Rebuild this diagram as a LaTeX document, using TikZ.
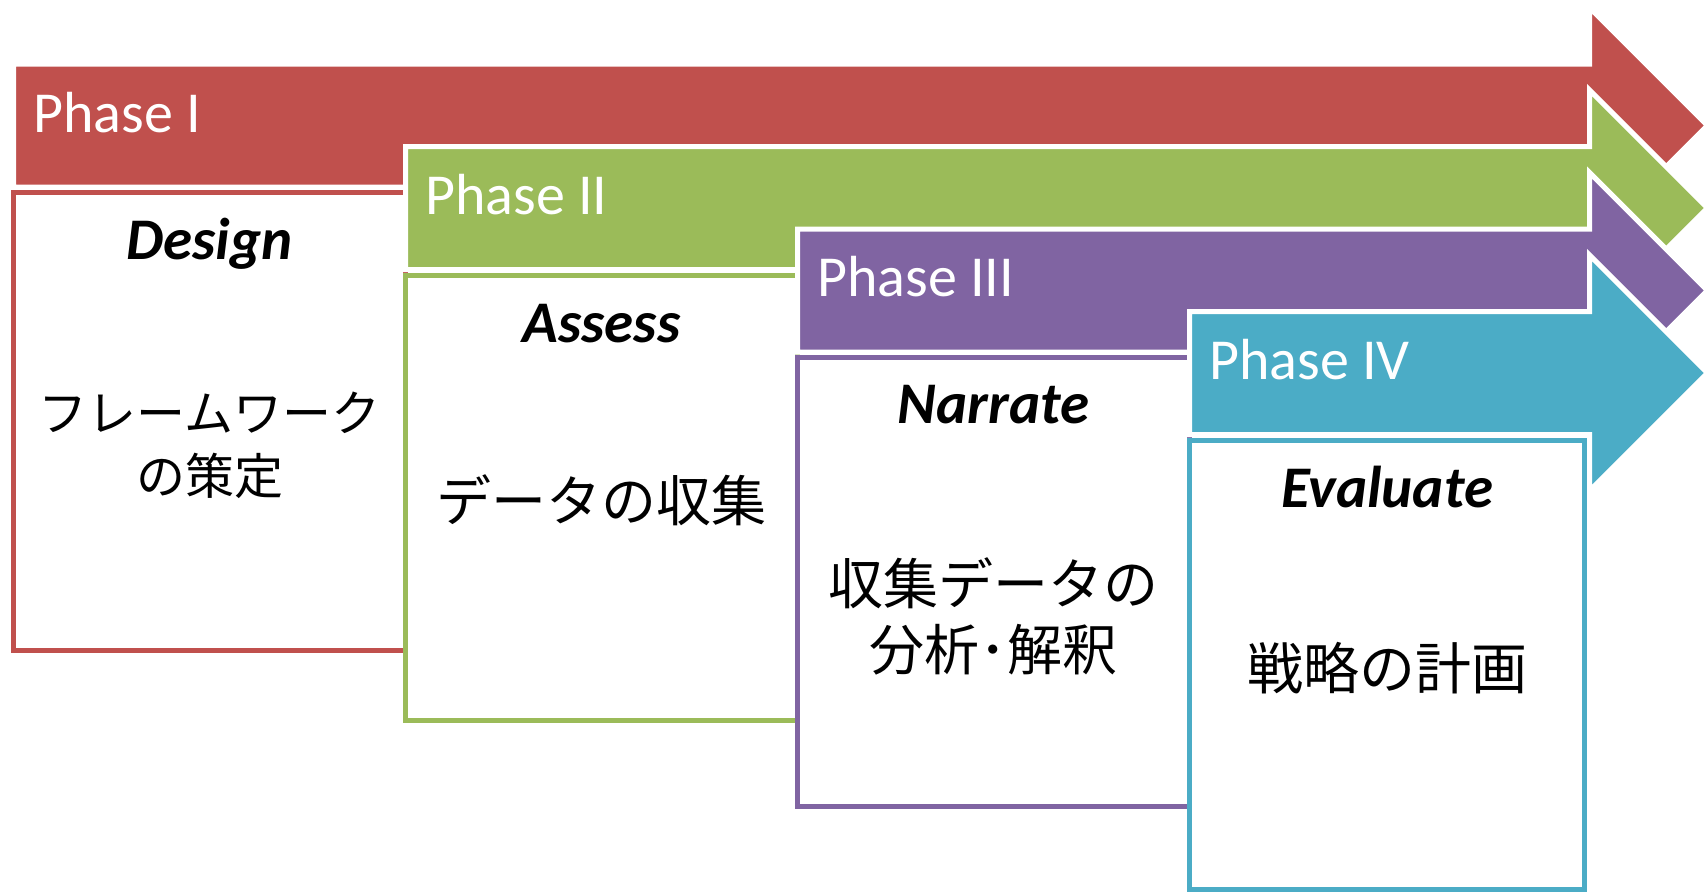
\documentclass[tikz,border=0pt]{standalone}
\usepackage{fontspec}
\setmainfont{Carlito}
\newfontfamily\jpfont{Noto Sans CJK JP}
\definecolor{pred}{HTML}{C0504D}
\definecolor{pgreen}{HTML}{9BBB59}
\definecolor{ppurple}{HTML}{8064A2}
\definecolor{pblue}{HTML}{4BACC6}
\begin{document}
\begin{tikzpicture}[x=1pt,y=-1pt,
  arrowshape/.style={draw=white, line width=5pt, line join=miter},
  phasebox/.style={fill=white, line width=5pt},
  phaselabel/.style={anchor=base west, inner sep=0pt, text=white, font=\fontsize{58}{68}\selectfont},
  heading/.style={anchor=base, inner sep=0pt, font=\fontsize{59}{68}\selectfont\bfseries\itshape},
  jptext/.style={anchor=center, inner sep=0pt, align=center}
]
\useasboundingbox (0,0) rectangle (1704,892);

% Phase I
\path[arrowshape, fill=pred] (13.5,64) -- (1589.5,64) -- (1589.5,7.5) -- (1707.5,125.5) -- (1589.5,243.5) -- (1589.5,187) -- (13.5,187) -- cycle;
\node[phaselabel] (p1) at (33,132.5) {Phase I};
\draw[phasebox, draw=pred] (13.5,192.5) rectangle (405.5,650);
\node[heading] (h1) at (209.5,259.5) {Design};
\node[jptext, font=\jpfont\fontsize{49}{63}\selectfont] (t1) at (209.5,445.5) {フレームワーク\\の策定};

% Phase II
\path[arrowshape, fill=pgreen] (405.5,146.5) -- (1589.5,146.5) -- (1589.5,90) -- (1707.5,208) -- (1589.5,326) -- (1589.5,269.5) -- (405.5,269.5) -- cycle;
\node[phaselabel] (p2) at (425,214) {Phase II};
\draw[phasebox, draw=pgreen] (405.5,275) rectangle (797.5,720.5);
\node[heading] (h2) at (601.5,342) {Assess};
\node[jptext, font=\jpfont\fontsize{55}{66}\selectfont] (t2) at (601.5,500) {データの収集};

% Phase III
\path[arrowshape, fill=ppurple] (797.5,229) -- (1589.5,229) -- (1589.5,172.5) -- (1707.5,290.5) -- (1589.5,408.5) -- (1589.5,352) -- (797.5,352) -- cycle;
\node[phaselabel] (p3) at (817,296.5) {Phase III};
\draw[phasebox, draw=ppurple] (797.5,357.5) rectangle (1189.5,806);
\node[heading] (h3) at (993.5,423) {Narrate};
\node[jptext, font=\jpfont\fontsize{55}{66}\selectfont] (t3) at (993.5,616) {収集データの\\分析･解釈};

% Phase IV
\path[arrowshape, fill=pblue] (1189.5,311.5) -- (1589.5,311.5) -- (1589.5,255) -- (1707.5,373) -- (1589.5,491) -- (1589.5,434.5) -- (1189.5,434.5) -- cycle;
\node[phaselabel] (p4) at (1209,379) {Phase IV};
\draw[phasebox, draw=pblue] (1189.5,440) rectangle (1584.5,889.5);
\node[heading] (h4) at (1387,507) {Evaluate};
\node[jptext, font=\jpfont\fontsize{56}{66}\selectfont] (t4) at (1387,668) {戦略の計画};
\end{tikzpicture}
\end{document}
